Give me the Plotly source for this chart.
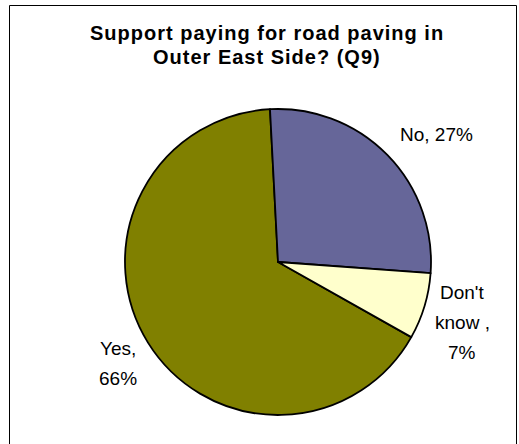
import plotly.graph_objects as go

# Data
categories = ["Yes", "No", "Don't know"]
values = [66, 27, 7]
colors = ["#808000", "#666699", "#FFFFCC"]
title_lines = ["Support paying for road paving in", "Outer East Side? (Q9)"]
# label lines as wrapped in the original chart
label_lines = {
    "Yes": ["Yes,", "66%"],
    "No": ["No, 27%"],
    "Don't know": ["Don't", "know ,", "7%"],
}

W, H = 519, 444
def px(x):
    return x / W
def py(y):
    return 1 - y / H

cx, cy, r = 278, 262, 153

fig = go.Figure(go.Pie(
    labels=categories,
    values=values,
    sort=False,
    direction="clockwise",
    rotation=119.4,
    marker=dict(colors=colors, line=dict(color="black", width=1.8)),
    textinfo="none",
    hoverinfo="label+percent",
    showlegend=False,
    domain=dict(x=[px(cx - r), px(cx + r)], y=[py(cy + r), py(cy - r)]),
))

font_family = "Arial, Liberation Sans, sans-serif"
annotations = []
# title
for i, line in enumerate(title_lines):
    annotations.append(dict(
        text='<span style="letter-spacing:1px"><b>%s</b></span>' % line,
        x=px(267), y=py(33 + 24 * i),
        xref="paper", yref="paper", showarrow=False,
        xanchor="center", yanchor="middle",
        font=dict(family=font_family, size=20, color="black")))

label_pos = {
    "Yes": (118, 348),
    "No": (436, 134),
    "Don't know": (462, 292),
}
for cat in categories:
    x0, y0 = label_pos[cat]
    for i, line in enumerate(label_lines[cat]):
        annotations.append(dict(
            text=line, x=px(x0), y=py(y0 + 30 * i),
            xref="paper", yref="paper", showarrow=False,
            xanchor="center", yanchor="middle",
            font=dict(family=font_family, size=19, color="black")))

fig.update_layout(
    width=W, height=H,
    margin=dict(l=0, r=0, t=0, b=0),
    paper_bgcolor="white",
    plot_bgcolor="white",
    annotations=annotations,
    shapes=[dict(type="rect", xref="paper", yref="paper",
                 x0=px(9.5), x1=px(516.5), y0=py(460), y1=py(5.5),
                 line=dict(color="black", width=1))],
)

fig.write_html("out.html")
